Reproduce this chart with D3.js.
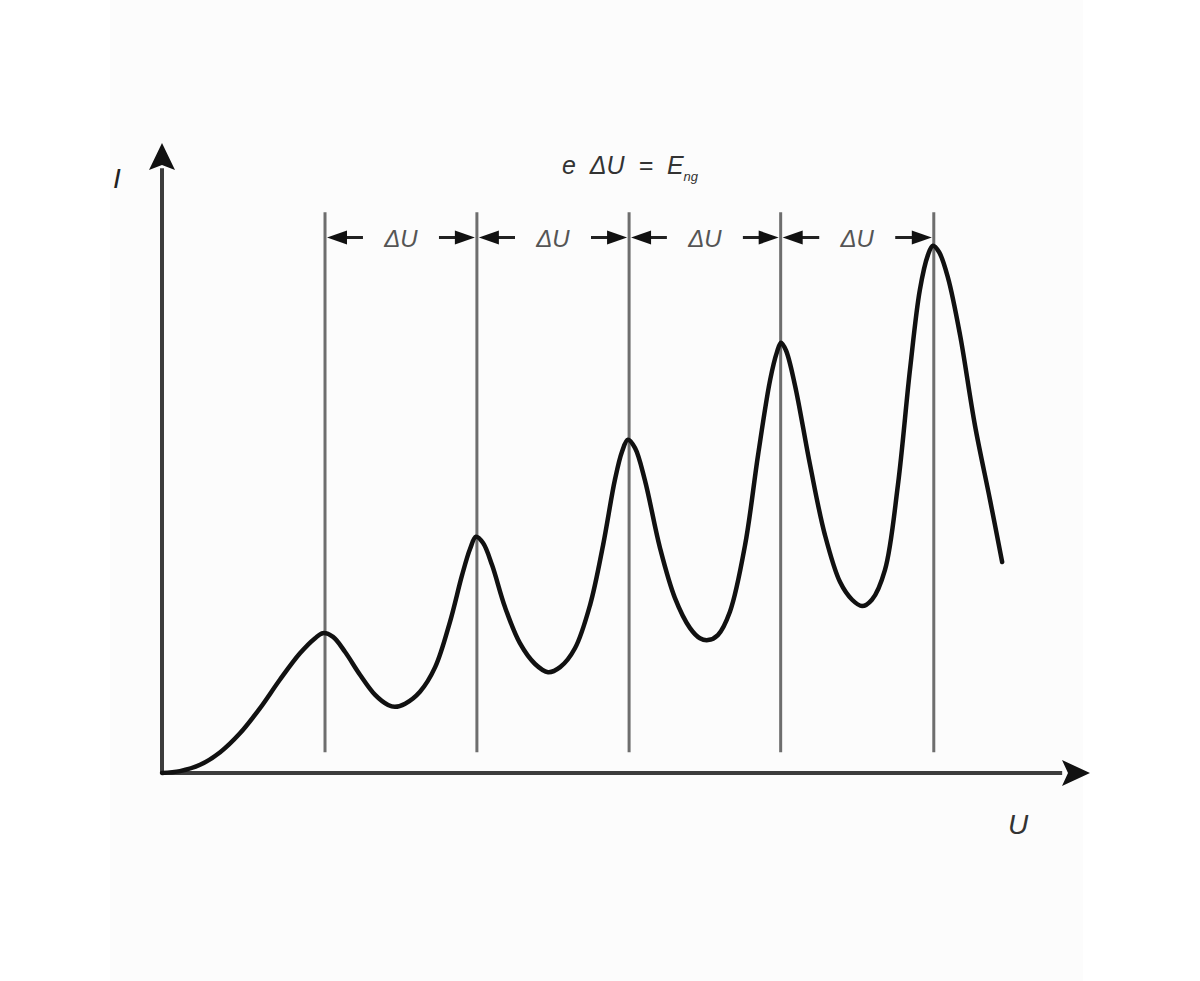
<!DOCTYPE html>
<html><head><meta charset="utf-8">
<script src="https://cdn.jsdelivr.net/npm/d3@7"></script>
<style>body{margin:0;background:#fff}svg{display:block}</style>
</head><body>
<svg id="c" width="1200" height="981"></svg>
<script>
// Franck–Hertz style current vs voltage curve (arbitrary units)
const voltage = [0,0.58,1.23,1.88,2.52,3.17,3.81,4.46,4.95,5.2,5.53,5.92,6.4,6.89,7.31,7.53,
  7.86,8.34,8.83,9.31,9.7,9.96,10.15,10.38,10.67,11.09,11.57,12.06,12.48,
  12.87,13.35,13.84,14.26,14.64,14.87,15.06,15.29,15.61,16.1,16.58,17.07,17.39,17.65,
  17.97,18.36,18.85,19.27,19.66,19.88,20.01,20.17,20.46,20.95,21.43,21.92,22.31,22.63,
  22.95,23.37,23.79,24.18,24.5,24.76,24.92,25.12,25.41,25.8,26.28,26.77,27.16];
const current = [0,0.03,0.13,0.33,0.63,1.03,1.48,1.9,2.14,2.22,2.16,1.92,1.56,1.24,1.08,1.05,
  1.1,1.29,1.68,2.4,3.14,3.56,3.75,3.65,3.3,2.63,2.06,1.73,1.6,
  1.68,1.98,2.67,3.62,4.65,5.1,5.29,5.16,4.65,3.57,2.78,2.3,2.14,2.11,
  2.19,2.56,3.62,5.05,6.24,6.68,6.83,6.71,6.16,4.89,3.78,3.03,2.75,2.65,
  2.75,3.22,4.57,6.4,7.67,8.22,8.37,8.27,7.86,6.95,5.52,4.33,3.35];
const peakVoltages = [5.27, 10.18, 15.1, 20.0, 24.95];
const intervalLabels = ["ΔU","ΔU","ΔU","ΔU"];
const xLabel = "U", yLabel = "I";

const svg = d3.select("#c");
const x = d3.scaleLinear().domain([0, 30]).range([162, 1090]);
const y = d3.scaleLinear().domain([0, 10]).range([773, 143]);

svg.append("rect").attr("x",110).attr("y",0).attr("width",973).attr("height",981).attr("fill","#fcfcfc");

// vertical peak lines
svg.selectAll("line.peak").data(peakVoltages).join("line")
  .attr("x1", d=>x(d)).attr("x2", d=>x(d))
  .attr("y1", y(8.9)).attr("y2", y(0.33))
  .attr("stroke","#6e6e6e").attr("stroke-width",3);

// axes
const ax = svg.append("g").attr("stroke","#3c3c3c").attr("stroke-width",4);
ax.append("line").attr("x1",x(0)).attr("x2",x(29.1)).attr("y1",y(0)).attr("y2",y(0));
ax.append("line").attr("x1",x(0)).attr("x2",x(0)).attr("y1",y(0)).attr("y2",y(9.6));
// arrow heads
svg.append("path").attr("fill","#111")
  .attr("d",`M${x(30)},${y(0)} L${x(30)-28},${y(0)-13} L${x(30)-22},${y(0)} L${x(30)-28},${y(0)+13} Z`);
svg.append("path").attr("fill","#111")
  .attr("d",`M${x(0)},${y(10)} L${x(0)-13},${y(10)+27} L${x(0)},${y(10)+22} L${x(0)+13},${y(10)+27} Z`);

// curve
const pts = voltage.map((v,i)=>[v,current[i]]);
svg.append("path").datum(pts)
  .attr("d", d3.line().x(d=>x(d[0])).y(d=>y(d[1])).curve(d3.curveCatmullRom.alpha(0.5)))
  .attr("fill","none").attr("stroke","#111").attr("stroke-width",4.5)
  .attr("stroke-linejoin","round").attr("stroke-linecap","round");

// interval arrows
const ay = y(8.5);
function arrow(x0, x1){ // head at x1
  const dir = Math.sign(x1-x0);
  const g = svg.append("g");
  g.append("line").attr("x1",x0).attr("x2",x1-dir*10).attr("y1",ay).attr("y2",ay)
    .attr("stroke","#222").attr("stroke-width",3);
  g.append("path").attr("fill","#111")
    .attr("d",`M${x1},${ay} L${x1-dir*20},${ay-7} L${x1-dir*20},${ay+7} Z`);
}
intervalLabels.forEach((lab,k)=>{
  const a = x(peakVoltages[k]), b = x(peakVoltages[k+1]);
  const m = (a+b)/2;
  arrow(m-38, a+2);
  arrow(m+38, b-2);
  svg.append("text").attr("x",m).attr("y",ay+9).attr("text-anchor","middle")
    .attr("font-family","Liberation Sans, Arial, sans-serif").attr("font-style","italic")
    .attr("font-size",24).attr("fill","#555").text(lab);
});

// title formula
const t = svg.append("text").attr("x",630).attr("y",174).attr("text-anchor","middle")
  .attr("font-family","Liberation Sans, Arial, sans-serif").attr("font-style","italic")
  .attr("font-size",25).attr("fill","#333").attr("xml:space","preserve");
t.append("tspan").text("e  ΔU  =  E");
t.append("tspan").attr("font-size",13).attr("dy",7).text("ng");

svg.append("text").attr("x",117).attr("y",188).attr("text-anchor","middle")
  .attr("font-family","Liberation Sans, Arial, sans-serif").attr("font-style","italic")
  .attr("font-size",28).attr("fill","#222").text(yLabel);
svg.append("text").attr("x",1018).attr("y",834).attr("text-anchor","middle")
  .attr("font-family","Liberation Sans, Arial, sans-serif").attr("font-style","italic")
  .attr("font-size",28).attr("fill","#333").text(xLabel);
</script>
</body></html>
